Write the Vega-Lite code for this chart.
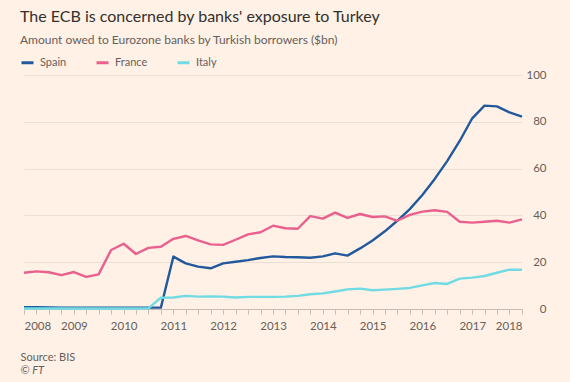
{
  "$schema": "https://vega.github.io/schema/vega-lite/v6.json",
  "autosize": "none",
  "width": 498,
  "height": 234,
  "padding": {"left": 24, "top": 75, "right": 48, "bottom": 73},
  "background": "#fff1e5",
  "title": {
    "text": "The ECB is concerned by banks' exposure to Turkey",
    "subtitle": "Amount owed to Eurozone banks by Turkish borrowers ($bn)",
    "anchor": "start",
    "frame": "group",
    "dx": -4,
    "offset": 9,
    "font": "Lato",
    "fontSize": 16,
    "fontWeight": "normal",
    "color": "#33302e",
    "subtitleFont": "Lato",
    "subtitleFontSize": 12,
    "subtitleColor": "#66605c",
    "subtitlePadding": 10
  },
  "config": {
    "view": {"stroke": null},
    "font": "Lato"
  },
  "data": {
    "values": [
      {"date": "2008-01-01", "Spain": 0.8, "France": 15.5, "Italy": 0.2},
      {"date": "2008-04-01", "Spain": 0.8, "France": 16.1, "Italy": 0.2},
      {"date": "2008-07-01", "Spain": 0.7, "France": 15.7, "Italy": 0.2},
      {"date": "2008-10-01", "Spain": 0.6, "France": 14.5, "Italy": 0.2},
      {"date": "2009-01-01", "Spain": 0.6, "France": 15.8, "Italy": 0.2},
      {"date": "2009-04-01", "Spain": 0.6, "France": 13.7, "Italy": 0.2},
      {"date": "2009-07-01", "Spain": 0.6, "France": 14.8, "Italy": 0.2},
      {"date": "2009-10-01", "Spain": 0.6, "France": 25.2, "Italy": 0.2},
      {"date": "2010-01-01", "Spain": 0.6, "France": 27.9, "Italy": 0.2},
      {"date": "2010-04-01", "Spain": 0.6, "France": 23.5, "Italy": 0.2},
      {"date": "2010-07-01", "Spain": 0.6, "France": 26.1, "Italy": 0.3},
      {"date": "2010-10-01", "Spain": 0.6, "France": 26.6, "Italy": 4.8},
      {"date": "2011-01-01", "Spain": 22.4, "France": 30.0, "Italy": 4.9},
      {"date": "2011-04-01", "Spain": 19.5, "France": 31.2, "Italy": 5.6},
      {"date": "2011-07-01", "Spain": 18.1, "France": 29.3, "Italy": 5.3},
      {"date": "2011-10-01", "Spain": 17.4, "France": 27.6, "Italy": 5.4},
      {"date": "2012-01-01", "Spain": 19.5, "France": 27.4, "Italy": 5.3},
      {"date": "2012-04-01", "Spain": 20.2, "France": 29.6, "Italy": 4.9},
      {"date": "2012-07-01", "Spain": 20.9, "France": 31.9, "Italy": 5.2},
      {"date": "2012-10-01", "Spain": 21.8, "France": 32.8, "Italy": 5.2},
      {"date": "2013-01-01", "Spain": 22.5, "France": 35.6, "Italy": 5.2},
      {"date": "2013-04-01", "Spain": 22.2, "France": 34.5, "Italy": 5.3},
      {"date": "2013-07-01", "Spain": 22.1, "France": 34.3, "Italy": 5.6},
      {"date": "2013-10-01", "Spain": 21.9, "France": 39.7, "Italy": 6.3},
      {"date": "2014-01-01", "Spain": 22.5, "France": 38.6, "Italy": 6.7},
      {"date": "2014-04-01", "Spain": 23.8, "France": 41.2, "Italy": 7.5},
      {"date": "2014-07-01", "Spain": 22.8, "France": 38.9, "Italy": 8.4},
      {"date": "2014-10-01", "Spain": 25.9, "France": 40.6, "Italy": 8.7},
      {"date": "2015-01-01", "Spain": 29.3, "France": 39.3, "Italy": 8.0},
      {"date": "2015-04-01", "Spain": 33.2, "France": 39.6, "Italy": 8.3},
      {"date": "2015-07-01", "Spain": 37.7, "France": 37.7, "Italy": 8.6},
      {"date": "2015-10-01", "Spain": 42.7, "France": 40.2, "Italy": 9.0},
      {"date": "2016-01-01", "Spain": 48.7, "France": 41.6, "Italy": 10.1},
      {"date": "2016-04-01", "Spain": 55.6, "France": 42.2, "Italy": 11.1},
      {"date": "2016-07-01", "Spain": 63.2, "France": 41.5, "Italy": 10.7},
      {"date": "2016-10-01", "Spain": 71.8, "France": 37.3, "Italy": 13.0},
      {"date": "2017-01-01", "Spain": 81.5, "France": 36.9, "Italy": 13.4},
      {"date": "2017-04-01", "Spain": 86.9, "France": 37.3, "Italy": 14.1},
      {"date": "2017-07-01", "Spain": 86.6, "France": 37.7, "Italy": 15.5},
      {"date": "2017-10-01", "Spain": 84.0, "France": 36.9, "Italy": 16.8},
      {"date": "2018-01-01", "Spain": 82.2, "France": 38.3, "Italy": 16.8}
    ]
  },
  "transform": [
    {"fold": ["Spain", "France", "Italy"], "as": ["country", "value"]}
  ],
  "encoding": {
    "x": {
      "field": "date",
      "type": "temporal",
      "scale": {"type": "utc", "nice": false},
      "axis": {
        "tickCount": {"interval": "month", "step": 3},
        "labelExpr": "utcmonth(datum.value) == 0 ? utcFormat(datum.value, '%Y') : ''",
        "labelFlush": true,
        "labelOverlap": false,
        "labelFontSize": 11.5,
        "labelColor": "#66605c",
        "labelPadding": 6,
        "grid": false,
        "domainColor": "#c9bdb3",
        "tickColor": "#c9bdb3",
        "tickSize": 5,
        "title": "Source: BIS",
        "titleFontSize": 11,
        "titleFontWeight": "normal",
        "titleColor": "#66605c",
        "titleAnchor": "start",
        "titleAlign": "left",
        "titleBaseline": "alphabetic",
        "titleX": -4,
        "titleY": 51
      }
    }
  },
  "layer": [
    {
      "mark": {"type": "line", "strokeWidth": 2.4, "strokeJoin": "round"},
      "encoding": {
        "y": {
          "field": "value",
          "type": "quantitative",
          "scale": {"domain": [0, 100], "nice": false},
          "axis": {
            "orient": "right",
            "values": [0, 20, 40, 60, 80, 100],
            "title": null,
            "domain": false,
            "ticks": false,
            "grid": true,
            "gridColor": "#ebdfd5",
            "gridWidth": 1,
            "labelAlign": "right",
            "labelPadding": 24,
            "labelFontSize": 11.5,
            "labelColor": "#66605c"
          }
        },
        "color": {
          "field": "country",
          "type": "nominal",
          "scale": {"domain": ["Spain", "France", "Italy"], "range": ["#22599c", "#e9608f", "#70dbe3"]},
          "legend": {
            "orient": "none",
            "legendX": -4,
            "legendY": -20,
            "direction": "horizontal",
            "title": null,
            "symbolType": "stroke",
            "symbolStrokeWidth": 3,
            "symbolSize": 144,
            "labelFontSize": 11,
            "labelColor": "#66605c",
            "labelOffset": 5,
            "columnPadding": 23
          }
        }
      }
    },
    {
      "mark": {"type": "line", "opacity": 0},
      "encoding": {
        "detail": {"field": "country"},
        "y": {
          "field": "value",
          "type": "quantitative",
          "scale": {"domain": [0, 100], "nice": false},
          "axis": {
            "orient": "left",
            "labels": false,
            "ticks": false,
            "domain": false,
            "grid": false,
            "title": "© FT",
            "titleAngle": 0,
            "titleFontSize": 11,
            "titleFontStyle": "italic",
            "titleFontWeight": "normal",
            "titleColor": "#66605c",
            "titleAlign": "left",
            "titleBaseline": "alphabetic",
            "titleX": -4,
            "titleY": 298
          }
        }
      }
    }
  ],
  "resolve": {"scale": {"y": "independent"}, "axis": {"y": "independent"}}
}
